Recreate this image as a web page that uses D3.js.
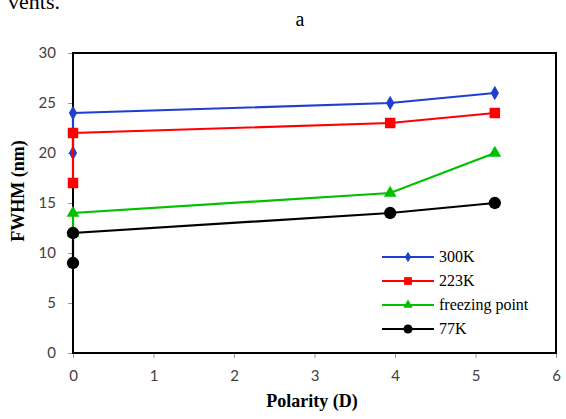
<!DOCTYPE html>
<html><head><meta charset="utf-8">
<script src="https://cdn.jsdelivr.net/npm/d3@7/dist/d3.min.js"></script>
<style>body{margin:0;background:#fff}svg{display:block}</style>
</head><body>
<script>
const seriesNames = ["300K","223K","freezing point","77K"];
const seriesColors = ["#1f3fd0","#ff0000","#00c000","#000000"];
const seriesSymbols = ["diamond","square","triangle","circle"];
const xVals = [0, 0, 3.94, 5.24];
const vals300K = [20, 24, 25, 26];
const vals223K = [17, 22, 23, 24];
const valsFreezing = [12, 14, 16, 20];
const vals77K = [9, 12, 14, 15];
const xTicks = [0,1,2,3,4,5,6];
const yTicks = [0,5,10,15,20,25,30];

const allVals = [vals300K, vals223K, valsFreezing, vals77K];
const W = 566, H = 419;
const SERIF = "'Liberation Serif', 'Times New Roman', serif";
const SANS = "'Lato', 'Open Sans', sans-serif";
const svg = d3.select("body").append("svg").attr("width", W).attr("height", H);
const m = {l:73, r:556, t:53, b:353};
const x = d3.scaleLinear().domain([0,6]).range([m.l, m.r]);
const y = d3.scaleLinear().domain([0,30]).range([m.b, m.t]);

svg.append("text").attr("x", 8).attr("y", 9).attr("font-family", SERIF)
  .attr("font-size", 22).attr("fill","#000").text("vents.");
svg.append("text").attr("x", 300).attr("y", 26).attr("text-anchor","middle")
  .attr("font-family", SERIF).attr("font-size", 20).text("a");

// axes
const yAxis = d3.axisLeft(y).tickValues(yTicks).tickSize(5).tickPadding(12).tickFormat(d3.format("d"));
const xAxis = d3.axisBottom(x).tickValues(xTicks).tickSize(5).tickPadding(12).tickFormat(d3.format("d"));
const gy = svg.append("g").attr("transform",`translate(${m.l},0)`).call(yAxis);
const gx = svg.append("g").attr("transform",`translate(0,${m.b})`).call(xAxis);
[gx, gy].forEach(g => {
  g.select(".domain").remove();
  g.selectAll("line").attr("stroke","#999");
  g.selectAll("text").attr("font-family", SANS).attr("font-size",15).attr("fill","#404040");
});
// frame
svg.append("rect").attr("x", m.l).attr("y", m.t).attr("width", m.r-m.l).attr("height", m.b-m.t)
  .attr("fill","none").attr("stroke","#000").attr("stroke-width",2);

// axis titles
svg.append("text").attr("transform",`translate(24,${(m.t+m.b)/2 - 12}) rotate(-90)`).attr("text-anchor","middle")
  .attr("font-family", SERIF).attr("font-weight","bold").attr("font-size",18).text("FWHM (nm)");
svg.append("text").attr("x", 312).attr("y", 407).attr("text-anchor","middle")
  .attr("font-family", SERIF).attr("font-weight","bold").attr("font-size",18).text("Polarity (D)");

const symMap = {diamond:d3.symbolDiamond, square:d3.symbolSquare, triangle:d3.symbolTriangle, circle:d3.symbolCircle};
const symSize = {diamond:60, square:110, triangle:70, circle:120};
const line = d3.line().x(d=>x(d[0])).y(d=>y(d[1]));

seriesNames.forEach((name,i) => {
  const pts = xVals.map((xv,j)=>[xv, allVals[i][j]]);
  const g = svg.append("g");
  g.append("path").attr("d", line(pts)).attr("fill","none").attr("stroke", seriesColors[i]).attr("stroke-width",2.2);
  g.selectAll("path.pt").data(pts).enter().append("path").attr("class","pt")
    .attr("transform", d=>`translate(${x(d[0])},${y(d[1])})`)
    .attr("d", d3.symbol().type(symMap[seriesSymbols[i]]).size(symSize[seriesSymbols[i]]))
    .attr("fill", seriesColors[i]);
});

// legend
const lg = svg.append("g");
seriesNames.forEach((name,i) => {
  const yy = 257 + i*24;
  lg.append("line").attr("x1",382).attr("x2",434).attr("y1",yy).attr("y2",yy).attr("stroke",seriesColors[i]).attr("stroke-width",2.2);
  lg.append("path").attr("transform",`translate(408,${yy})`)
    .attr("d", d3.symbol().type(symMap[seriesSymbols[i]]).size(symSize[seriesSymbols[i]]*0.55)).attr("fill",seriesColors[i]);
  lg.append("text").attr("x",439).attr("y",yy+5).attr("font-family", SERIF)
    .attr("font-size",16).text(name);
});
</script>
</body></html>
